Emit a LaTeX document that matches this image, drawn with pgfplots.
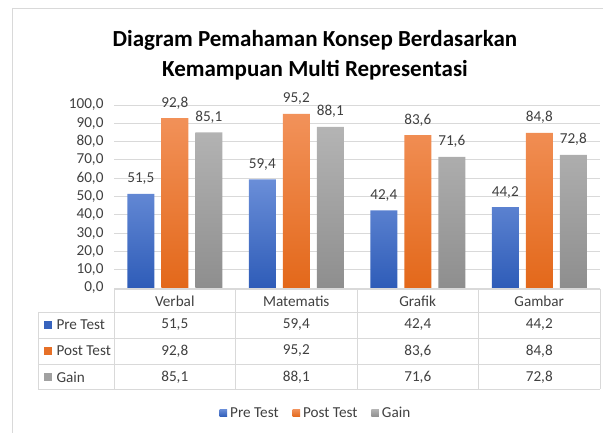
\documentclass[border=0pt]{standalone}
\usepackage{pgfplots}
\pgfplotsset{compat=1.18}
\usepackage{fontspec}
\setmainfont{Carlito}
\definecolor{txt}{HTML}{404040}
\definecolor{gridc}{HTML}{D9D9D9}
\definecolor{bluetop}{HTML}{6A8ED8}
\definecolor{bluebot}{HTML}{2E5CB8}
\definecolor{orgtop}{HTML}{F2925A}
\definecolor{orgbot}{HTML}{E3681A}
\definecolor{grytop}{HTML}{B4B4B4}
\definecolor{grybot}{HTML}{8E8E8E}
\newcommand{\tf}{\fontsize{15.2}{18}\selectfont}
\begin{document}
\begin{tikzpicture}[x=1pt,y=1pt]
\path[use as bounding box] (0,0) rectangle (603,433);
% chart frame
\draw[gridc] (12,433-8) -- (603,433-8);
\draw[gridc] (12,433-8) -- (12,0);
% title
\node[align=center, font=\fontsize{23}{30.5}\selectfont\bfseries, text=black] at (315,433-55) {Diagram Pemahaman Konsep Berdasarkan\\Kemampuan Multi Representasi};
\begin{axis}[
  at={(114pt,145pt)}, anchor=south west,
  scale only axis, width=486pt, height=183pt,
  xmin=-0.5, xmax=3.5, ymin=0, ymax=100,
  ytick={0,10,...,100},
  xtick={0,1,2,3},
  xticklabels={Verbal,Matematis,Grafik,Gambar},
  xticklabel style={anchor=center, yshift=-13pt, font=\tf, text=txt},
  yticklabel style={font=\tf, text=txt, xshift=-7pt},
  yticklabel={\pgfmathprintnumber[fixed,fixed zerofill,precision=1,use comma,assume math mode=true]{\tick}},
  major tick length=0pt,
  axis line style={draw=none},
  ymajorgrids, major grid style={gridc, line width=0.8pt},
  ybar=7pt, bar width=27pt,
  nodes near coords,
  nodes near coords style={font=\tf, text=txt, anchor=south, yshift=5.5pt,
    /pgf/number format/fixed, /pgf/number format/fixed zerofill,
    /pgf/number format/precision=1, /pgf/number format/use comma,
    /pgf/number format/assume math mode=true},
  legend style={draw=none, fill=none, at={(0.4156,-0.683)}, anchor=center,
    legend columns=3, font=\tf, text=txt,
    /tikz/every odd column/.append style={column sep=1pt},
    /tikz/every even column/.append style={column sep=12pt}},
  legend image code/.code={\path[#1,draw=none] (0pt,-3.8pt) rectangle (7.5pt,3.8pt);},
]
\addplot[draw=none, top color=bluetop, bottom color=bluebot] coordinates {(0,51.5) (1,59.4) (2,42.4) (3,44.2)};
\addplot[draw=none, top color=orgtop, bottom color=orgbot] coordinates {(0,92.8) (1,95.2) (2,83.6) (3,84.8)};
\addplot[draw=none, top color=grytop, bottom color=grybot] coordinates {(0,85.1) (1,88.1) (2,71.6) (3,72.8)};
\legend{Pre Test, Post Test, Gain}
\end{axis}
% data table
\begin{scope}[gridc, line width=0.8pt]
\draw (114,433-289) -- (600,433-289);
\foreach \y in {312,338,364,389} \draw (38,433-\y) -- (600,433-\y);
\foreach \x in {114,235.5,357,478.5,600} \draw (\x,433-289) -- (\x,433-389);
\draw (38,433-312) -- (38,433-389);
\end{scope}
\fill[bluebot!85!bluetop] (44,433-325-4) rectangle (52,433-325+4);
\fill[orgbot!80!orgtop] (44,433-351-4) rectangle (52,433-351+4);
\fill[grybot!50!grytop] (44,433-377-4) rectangle (52,433-377+4);
\begin{scope}[every node/.style={font=\tf, text=txt}]
\node[anchor=west] at (53,433-325) {Pre Test};
\node[anchor=west] at (53,433-351) {Post Test};
\node[anchor=west] at (53,433-377) {Gain};
\node at (174.75,433-325) {51,5};
\node at (296.25,433-325) {59,4};
\node at (417.75,433-325) {42,4};
\node at (539.25,433-325) {44,2};
\node at (174.75,433-351) {92,8};
\node at (296.25,433-351) {95,2};
\node at (417.75,433-351) {83,6};
\node at (539.25,433-351) {84,8};
\node at (174.75,433-377) {85,1};
\node at (296.25,433-377) {88,1};
\node at (417.75,433-377) {71,6};
\node at (539.25,433-377) {72,8};
\end{scope}
\end{tikzpicture}
\end{document}
